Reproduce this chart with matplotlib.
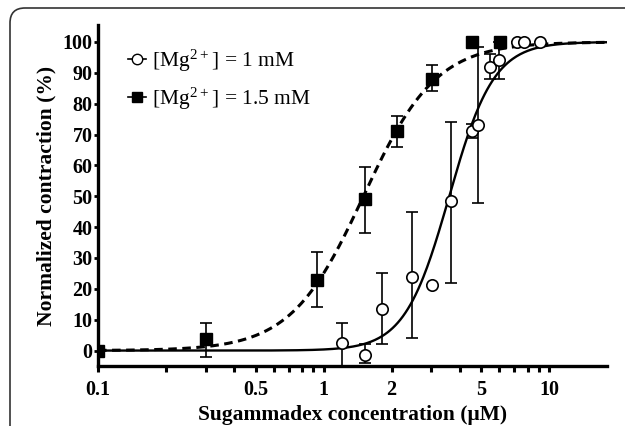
import numpy as np
import matplotlib
matplotlib.use("Agg")
import matplotlib.pyplot as plt
from matplotlib.lines import Line2D
from matplotlib.patches import FancyBboxPatch
from matplotlib.ticker import FixedLocator, FixedFormatter, NullFormatter

plt.rcParams['font.family'] = ['Liberation Serif', 'DejaVu Serif']
plt.rcParams['mathtext.fontset'] = 'custom'
plt.rcParams['mathtext.rm'] = 'Liberation Serif'
plt.rcParams['mathtext.default'] = 'regular'

# --- data ---
# [Mg2+] = 1.5 mM (filled squares)
sq_x = [0.1, 0.30, 0.93, 1.52, 2.12, 3.03, 4.56, 6.07]
sq_y = [0, 3.8, 23, 49, 71, 88, 100, 100]
sq_lo = [0, -2, 14, 38, 66, 84, 100, 100]
sq_hi = [0, 9, 32, 59.5, 76, 92.5, 100, 100]

# [Mg2+] = 1 mM (open circles)
ci_x = [1.21, 1.53, 1.82, 2.45, 3.03, 3.65, 4.56, 4.85, 5.43, 6.01, 7.2, 7.7, 9.1]
ci_y = [2.3, -1.3, 13.6, 24, 21.4, 48.4, 71, 73, 92, 94, 100, 100, 100]
ci_lo = [-5, -4, 2, 4, 21.4, 22, 69, 47.7, 88, 88, 100, 100, 100]
ci_hi = [8.8, 2, 25, 45, 21.4, 74, 73.5, 98.5, 96, 100, 100, 100, 100]

# Hill fit parameters (EC50, slope)
sq_ec50, sq_n = 1.5, 2.7
ci_ec50, ci_n = 3.6, 4.4

x_ticks = [0.1, 0.5, 1, 2, 5, 10]
x_labels = ['0.1', '0.5', '1', '2', '5', '10']
y_ticks = list(range(0, 101, 10))


def hill(x, ec50, n):
    return 100.0 / (1.0 + (ec50 / x) ** n)


fig = plt.figure(figsize=(6.25, 4.26), dpi=100)
ax = fig.add_axes([98 / 625, 60 / 426, (607 - 98) / 625, (401 - 60) / 426])

xf = np.logspace(-1, np.log10(18), 400)
ax.plot(xf, hill(xf, sq_ec50, sq_n), color='black', lw=2.2, ls=(0, (2.8, 1.8)), zorder=2)
ax.plot(xf, hill(xf, ci_ec50, ci_n), color='black', lw=1.7, ls='-', zorder=2)

sq_err = [np.array(sq_y) - np.array(sq_lo), np.array(sq_hi) - np.array(sq_y)]
ci_err = [np.array(ci_y) - np.array(ci_lo), np.array(ci_hi) - np.array(ci_y)]

ax.errorbar(sq_x, sq_y, yerr=sq_err, fmt='s', color='black', ms=8,
            mfc='black', mec='black', ecolor='black', elinewidth=1.2,
            capsize=4.3, capthick=1.2, zorder=3)
ax.errorbar(ci_x, ci_y, yerr=ci_err, fmt='o', color='black', ms=8.2,
            mfc='white', mec='black', mew=1.2, ecolor='black', elinewidth=1.2,
            capsize=4.3, capthick=1.2, zorder=3)

ax.set_xscale('log')
ax.set_xlim(0.1, 18)
ax.set_ylim(-5, 105.5)

ax.xaxis.set_major_locator(FixedLocator(x_ticks))
ax.xaxis.set_major_formatter(FixedFormatter(x_labels))
minor = [v * d for d in (0.1, 1, 10) for v in range(2, 10)]
minor = [m for m in minor if m not in x_ticks and m < 18]
ax.xaxis.set_minor_locator(FixedLocator(minor))
ax.xaxis.set_minor_formatter(NullFormatter())
ax.set_yticks(y_ticks)

for s in ('top', 'right'):
    ax.spines[s].set_visible(False)
for s in ('left', 'bottom'):
    ax.spines[s].set_linewidth(2.4)

ax.tick_params(axis='x', which='both', direction='out', length=4, width=2.2, pad=6)
ax.tick_params(axis='y', which='major', direction='out', length=3, width=2, pad=1)
for lab in ax.get_xticklabels() + ax.get_yticklabels():
    lab.set_fontweight('bold')
    lab.set_fontsize(14.5)

ax.set_xlabel('Sugammadex concentration (\u03bcM)', fontsize=15.5, fontweight='bold', labelpad=4)
ax.set_ylabel('Normalized contraction (%)', fontsize=15.5, fontweight='bold', labelpad=4)

handles = [
    Line2D([], [], color='black', lw=1.2, marker='o', ms=7.5, mfc='white', mec='black'),
    Line2D([], [], color='black', lw=1.2, marker='s', ms=7, mfc='black', mec='black'),
]
labels = [r'$\mathregular{[Mg^{2+}]}$ = 1 mM', r'$\mathregular{[Mg^{2+}]}$ = 1.5 mM']
ax.legend(handles, labels, loc='upper left', bbox_to_anchor=(0.0216, 0.991), frameon=False,
          fontsize=15.5, handlelength=0.8, handletextpad=0.3, labelspacing=0.55)

# rounded frame around the figure
frame = FancyBboxPatch((0.10, -1.0), 7.0, 4.26 - 0.08 + 1.0,
                       boxstyle='round,pad=0,rounding_size=0.15',
                       transform=fig.dpi_scale_trans, fill=False,
                       edgecolor='#333333', lw=1.2, clip_on=False)
fig.patches.append(frame)

fig.savefig('out.png', dpi=100)
